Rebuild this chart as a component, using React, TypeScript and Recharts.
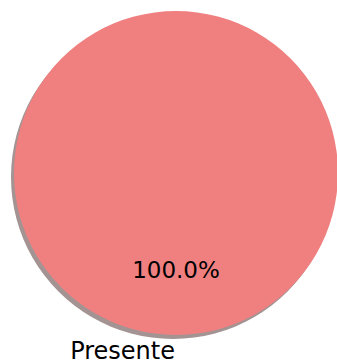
import React from 'react';
import { PieChart, Pie, Cell } from 'recharts';

// single slice pie, shadowed like the original
const labels = ['Presente'];
const values = [100];

const sliceColors = ['#F08080'];
const shadowColors = ['#A49393'];

const data = labels.map((name, i) => ({ name, value: values[i] }));

const RAD = Math.PI / 180;

const renderLabel = ({ cx, cy, midAngle, outerRadius, percent, name }: any) => {
  const cos = Math.cos(-midAngle * RAD);
  const sin = Math.sin(-midAngle * RAD);
  const px = cx + outerRadius * 0.6 * cos;
  const py = cy + outerRadius * 0.6 * sin;
  const lx = cx + outerRadius * 1.1 * cos;
  const ly = cy + outerRadius * 1.1 * sin;
  return (
    <g>
      <text
        x={px}
        y={py}
        textAnchor="middle"
        dominantBaseline="central"
        fontFamily="DejaVu Sans"
        fontSize={23}
        fill="#000"
      >
        {`${(percent * 100).toFixed(1)}%`}
      </text>
      <text
        x={lx - 1}
        y={ly}
        textAnchor={lx < cx + 0.001 ? 'end' : 'start'}
        dominantBaseline="central"
        fontFamily="DejaVu Sans"
        fontSize={24}
        fill="#000"
      >
        {name}
      </text>
    </g>
  );
};

const App: React.FC = () => {
  return (
    <div style={{ position: 'fixed', top: 0, left: 0, background: '#fff' }}>
      <PieChart width={337} height={363} margin={{ top: 0, right: 0, bottom: 0, left: 0 }}>
        <Pie
          data={data}
          dataKey="value"
          nameKey="name"
          cx={173}
          cy={177}
          outerRadius={162}
          startAngle={90}
          endAngle={-270}
          stroke="none"
          isAnimationActive={false}
        >
          {data.map((d, i) => (
            <Cell key={d.name} fill={shadowColors[i]} />
          ))}
        </Pie>
        <Pie
          data={data}
          dataKey="value"
          nameKey="name"
          cx={176}
          cy={173}
          outerRadius={162}
          startAngle={90}
          endAngle={-270}
          stroke="none"
          label={renderLabel}
          labelLine={false}
          isAnimationActive={false}
        >
          {data.map((d, i) => (
            <Cell key={d.name} fill={sliceColors[i]} />
          ))}
        </Pie>
      </PieChart>
    </div>
  );
};

export default App;
